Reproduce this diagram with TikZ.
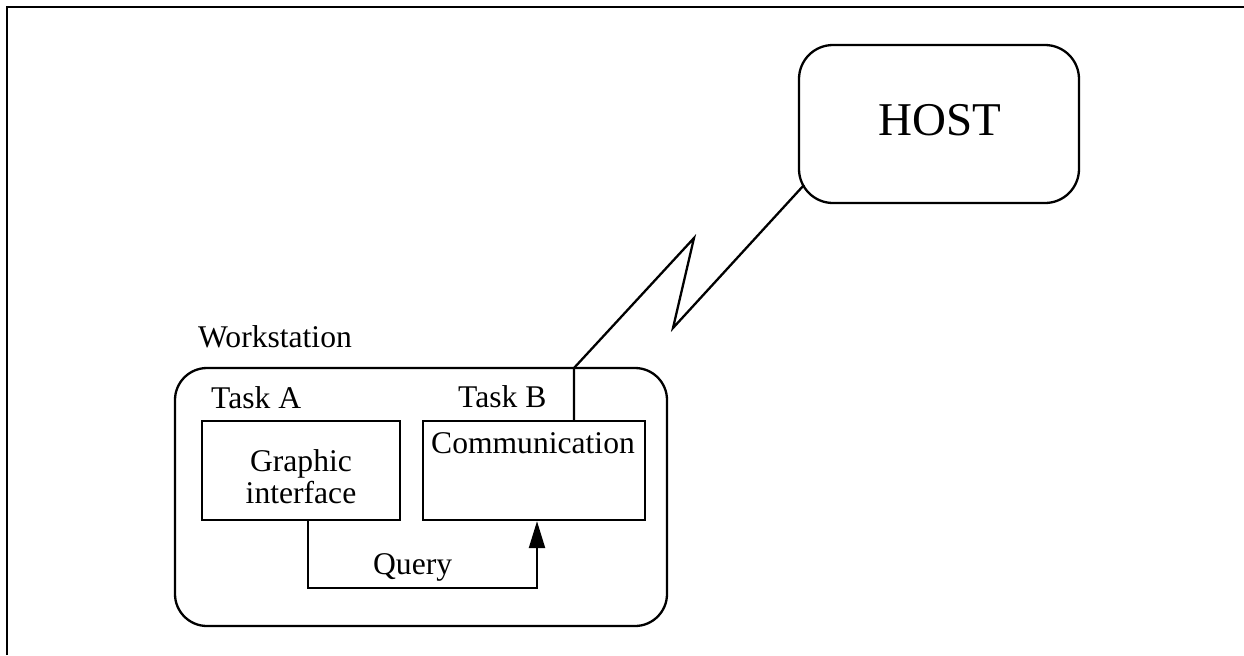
\documentclass[tikz,border=0pt]{standalone}
\usepackage{fontspec}
\setmainfont{Liberation Serif}
\usetikzlibrary{arrows.meta}
\begin{document}
\begin{tikzpicture}[x=0.5pt,y=-0.5pt,
  line width=1.15pt,
  lbl/.style={inner sep=0pt, font=\fontsize{15.8}{16}\selectfont},
  box/.style={draw, inner sep=0pt},
  query/.style={-{Triangle[length=13.5pt,width=8pt]}},
]
\useasboundingbox (0,0) rectangle (1244,655);
% page frame (top and left rules)
\draw (7,655) -- (7,7) -- (1244,7);

% remote host
\node[box, rounded corners=17pt, minimum width=140pt, minimum height=79pt] (host) at (939,124) {};
\node[lbl, font=\fontsize{23.5}{24}\selectfont, anchor=base] (hosttext) at (940,135) {HOST};

% workstation with its two tasks
\node[box, rounded corners=16pt, minimum width=246pt, minimum height=129pt] (ws) at (421,497) {};
\node[lbl, anchor=base west] (wslabel) at (197,347) {Workstation};

\node[box, minimum width=99pt, minimum height=49.5pt] (taskA) at (301,470.5) {};
\node[lbl, align=center] (gitext) at (301,477) {Graphic\\interface};
\node[lbl, anchor=base west] (taskAlabel) at (210,408) {Task A};

\node[box, minimum width=111pt, minimum height=49.5pt] (taskB) at (534,470.5) {};
\node[lbl, anchor=base] (commtext) at (533,453) {Communication};
\node[lbl, anchor=base west] (taskBlabel) at (457,407) {Task B};

% communication link to the host
\coordinate (tap) at (574,421);
\coordinate (bend) at (574,368);
\coordinate (zigA) at (694,238);
\coordinate (zigB) at (673,328);
\coordinate (hostend) at (804,185);
\draw (tap) -- (bend) -- (zigA) -- (zigB) -- (hostend);

% query from task A to task B
\draw[query] ([xshift=3.5pt]taskA.south) -- ++(0,67) -| ([xshift=1.5pt]taskB.south);
\node[lbl, anchor=base west] (querylabel) at (372,574) {Query};
\end{tikzpicture}
\end{document}
